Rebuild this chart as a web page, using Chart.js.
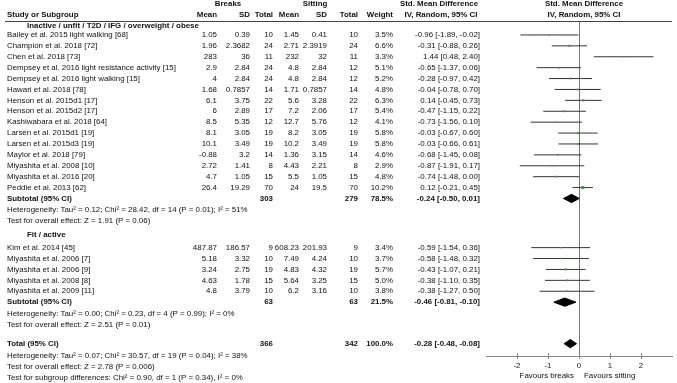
<!DOCTYPE html>
<html>
<head>
<meta charset="utf-8">
<script src="https://cdn.jsdelivr.net/npm/chart.js@4.4.1/dist/chart.umd.min.js"></script>
<style>
  html, body { margin: 0; padding: 0; background: #fff; }
  canvas { display: block; }
</style>
</head>
<body>
<canvas id="chart" width="677" height="383"></canvas>
<script>
// Subgroup 1: inactive / unfit / T2D / IFG / overweight / obese
const g1Label = 'Inactive / unfit / T2D / IFG / overweight / obese';
const g1Names = [
    'Bailey et al. 2015 light walking [68]',
    'Champion et al. 2018 [72]',
    'Chen et al. 2018 [73]',
    'Dempsey et al. 2016 light resistance activity [15]',
    'Dempsey et al. 2016 light walking [15]',
    'Hawari et al. 2018 [78]',
    'Henson et al. 2015d1 [17]',
    'Henson et al. 2015d2 [17]',
    'Kashiwabara et al. 2018 [64]',
    'Larsen et al. 2015d1 [19]',
    'Larsen et al. 2015d3 [19]',
    'Maylor et al. 2018 [79]',
    'Miyashita et al. 2008 [10]',
    'Miyashita et al. 2016 [20]',
    'Peddie et al. 2013 [62]'
];
const g1BreakMean = [1.05, 1.96, 283, 2.9, 4, 1.68, 6.1, 6, 8.5, 8.1, 10.1, -0.88, 2.72, 4.7, 26.4];
const g1BreakSD = [0.39, 2.3682, 36, 2.84, 2.84, 0.7857, 3.75, 2.89, 5.35, 3.05, 3.49, 3.2, 1.41, 1.05, 19.29];
const g1BreakN = [10, 24, 11, 24, 24, 14, 22, 17, 12, 19, 19, 14, 8, 15, 70];
const g1SitMean = [1.45, 2.71, 232, 4.8, 4.8, 1.71, 5.6, 7.2, 12.7, 8.2, 10.2, 1.36, 4.43, 5.5, 24];
const g1SitSD = [0.41, 2.3919, 32, 2.84, 2.84, 0.7857, 3.28, 2.06, 5.76, 3.05, 3.49, 3.15, 2.21, 1.05, 19.5];
const g1SitN = [10, 24, 11, 12, 12, 14, 22, 17, 12, 19, 19, 14, 8, 15, 70];
const g1Weight = [3.5, 6.6, 3.3, 5.1, 5.2, 4.8, 6.3, 5.4, 4.1, 5.8, 5.8, 4.6, 2.9, 4.8, 10.2];
const g1Smd = [-0.96, -0.31, 1.44, -0.65, -0.28, -0.04, 0.14, -0.47, -0.73, -0.03, -0.03, -0.68, -0.87, -0.74, 0.12];
const g1Lo = [-1.89, -0.88, 0.48, -1.37, -0.97, -0.78, -0.45, -1.15, -1.56, -0.67, -0.66, -1.45, -1.91, -1.48, -0.21];
const g1Hi = [-0.02, 0.26, 2.40, 0.06, 0.42, 0.70, 0.73, 0.22, 0.10, 0.60, 0.61, 0.08, 0.17, 0.00, 0.45];
const g1Sub = { nBreak: 303, nSit: 279, weight: 78.5, smd: -0.24, lo: -0.50, hi: 0.01 };
const g1Het = 'Heterogeneity: Tau\u00b2 = 0.12; Chi\u00b2 = 28.42, df = 14 (P = 0.01); I\u00b2 = 51%';
const g1Test = 'Test for overall effect: Z = 1.91 (P = 0.06)';

// Subgroup 2: fit / active
const g2Label = 'Fit / active';
const g2Names = [
    'Kim et al. 2014 [45]',
    'Miyashita et al. 2006 [7]',
    'Miyashita et al. 2006 [9]',
    'Miyashita et al. 2008 [8]',
    'Miyashita et al. 2009 [11]'
];
const g2BreakMean = [487.87, 5.18, 3.24, 4.63, 4.8];
const g2BreakSD = [186.57, 3.32, 2.75, 1.78, 3.79];
const g2BreakN = [9, 10, 19, 15, 10];
const g2SitMean = [608.23, 7.49, 4.83, 5.64, 6.2];
const g2SitSD = [201.93, 4.24, 4.32, 3.25, 3.16];
const g2SitN = [9, 10, 19, 15, 10];
const g2Weight = [3.4, 3.7, 5.7, 5.0, 3.8];
const g2Smd = [-0.59, -0.58, -0.43, -0.38, -0.38];
const g2Lo = [-1.54, -1.48, -1.07, -1.10, -1.27];
const g2Hi = [0.36, 0.32, 0.21, 0.35, 0.50];
const g2Sub = { nBreak: 63, nSit: 63, weight: 21.5, smd: -0.46, lo: -0.81, hi: -0.10 };
const g2Het = 'Heterogeneity: Tau\u00b2 = 0.00; Chi\u00b2 = 0.23, df = 4 (P = 0.99); I\u00b2 = 0%';
const g2Test = 'Test for overall effect: Z = 2.51 (P = 0.01)';

// Overall
const totalSum = { nBreak: 366, nSit: 342, weight: 100.0, smd: -0.28, lo: -0.48, hi: -0.08 };
const totalHet = 'Heterogeneity: Tau\u00b2 = 0.07; Chi\u00b2 = 30.57, df = 19 (P = 0.04); I\u00b2 = 38%';
const totalTest = 'Test for overall effect: Z = 2.78 (P = 0.006)';
const subgroupTest = 'Test for subgroup differences: Chi\u00b2 = 0.90, df = 1 (P = 0.34), I\u00b2 = 0%';

// Axis
const axisTicks = [-2, -1, 0, 1, 2];
const favoursLeft = 'Favours breaks';
const favoursRight = 'Favours sitting';

// Row layout (in row units, 1 = one study line)
const g1Rows = g1Names.map((_, i) => i);
const sub1Row = g1Names.length;
const het1Row = sub1Row + 1.06;
const test1Row = het1Row + 1.0;
const label2Row = test1Row + 1.3;
const g2Rows = g2Names.map((_, i) => label2Row + 1.15 + i);
const sub2Row = label2Row + 1.15 + g2Names.length;
const het2Row = sub2Row + 1.06;
const test2Row = het2Row + 1.0;
const totalRow = test2Row + 1.75;
const het3Row = totalRow + 1.07;
const test3Row = het3Row + 1.05;
const subgrpRow = test3Row + 1.05;

const FONT = "'Liberation Sans', Arial, sans-serif";
const FS = 7.9;
const DIAMOND_H = 0.38;

function ci(v, lo, hi) {
    return v.toFixed(2) + ' [' + lo.toFixed(2) + ', ' + hi.toFixed(2) + ']';
}

// build datasets
let markerData = [], markerRadius = [], whiskers = [];
function addStudies(rows, smd, lo, hi, weight) {
    rows.forEach((r, i) => {
        markerData.push({ x: smd[i], y: r });
        markerRadius.push(0.5 + 0.16 * weight[i]);
        whiskers.push({
            data: [{ x: lo[i], y: r }, { x: hi[i], y: r }],
            showLine: true,
            borderColor: '#333',
            borderWidth: 1,
            pointRadius: 0
        });
    });
}
addStudies(g1Rows, g1Smd, g1Lo, g1Hi, g1Weight);
addStudies(g2Rows, g2Smd, g2Lo, g2Hi, g2Weight);

function diamond(s, r) {
    return {
        data: [
            { x: s.lo, y: r },
            { x: s.smd, y: r - DIAMOND_H },
            { x: s.hi, y: r },
            { x: s.smd, y: r + DIAMOND_H },
            { x: s.lo, y: r }
        ],
        showLine: true,
        fill: 'shape',
        tension: 0,
        borderColor: '#000',
        backgroundColor: '#000',
        borderWidth: 1,
        pointRadius: 0
    };
}

let datasets = [
    {
        data: markerData,
        pointStyle: 'rect',
        pointRadius: markerRadius,
        backgroundColor: '#3c9d3c',
        borderColor: '#3c9d3c',
        borderWidth: 0
    },
    diamond(g1Sub, sub1Row),
    diamond(g2Sub, sub2Row),
    diamond(totalSum, totalRow)
].concat(whiskers);

// column x positions (right edges unless noted)
const col = { name: 7, group: 27, bMean: 217, bSD: 250, bN: 273, sMean: 299, sSD: 327, sN: 358, weight: 393, ci: 480 };

const tablePlugin = {
    id: 'table',
    afterDraw(chart) {
        const ctx = chart.ctx;
        const ys = chart.scales.y;
        const xs = chart.scales.x;
        const area = chart.chartArea;
        ctx.save();
        ctx.textBaseline = 'middle';
        ctx.fillStyle = '#111';

        function txt(s, x, row, align, bold) {
            ctx.font = (bold ? 'bold ' : '') + FS + 'px ' + FONT;
            ctx.textAlign = align || 'left';
            ctx.fillText(s, x, ys.getPixelForValue(row));
        }

        // headers
        const h1 = -2.84, h2 = -1.83;
        txt('Breaks', 228, h1, 'center', true);
        txt('Sitting', 315, h1, 'center', true);
        txt('Std. Mean Difference', 439, h1, 'center', true);
        txt('Std. Mean Difference', 584, h1, 'center', true);
        txt('Study or Subgroup', col.name, h2, 'left', true);
        txt('Mean', col.bMean, h2, 'right', true);
        txt('SD', col.bSD, h2, 'right', true);
        txt('Total', col.bN, h2, 'right', true);
        txt('Mean', col.sMean, h2, 'right', true);
        txt('SD', col.sSD, h2, 'right', true);
        txt('Total', col.sN, h2, 'right', true);
        txt('Weight', col.weight, h2, 'right', true);
        txt('IV, Random, 95% CI', 441, h2, 'center', true);
        txt('IV, Random, 95% CI', 584, h2, 'center', true);

        // header rule
        ctx.strokeStyle = '#444';
        ctx.lineWidth = 1;
        ctx.beginPath();
        ctx.moveTo(5, Math.round(area.top) + 0.5);
        ctx.lineTo(672, Math.round(area.top) + 0.5);
        ctx.stroke();

        function studies(rows, names, bm, bsd, bn, sm, ssd, sn, w, smd, lo, hi) {
            rows.forEach((r, i) => {
                txt(names[i], col.name, r);
                txt(String(bm[i]), col.bMean, r, 'right');
                txt(String(bsd[i]), col.bSD, r, 'right');
                txt(String(bn[i]), col.bN, r, 'right');
                txt(String(sm[i]), col.sMean, r, 'right');
                txt(String(ssd[i]), col.sSD, r, 'right');
                txt(String(sn[i]), col.sN, r, 'right');
                txt(w[i].toFixed(1) + '%', col.weight, r, 'right');
                txt(ci(smd[i], lo[i], hi[i]), col.ci, r, 'right');
            });
        }
        function summary(label, s, r) {
            txt(label, col.name, r, 'left', true);
            txt(String(s.nBreak), col.bN, r, 'right', true);
            txt(String(s.nSit), col.sN, r, 'right', true);
            txt(s.weight.toFixed(1) + '%', col.weight, r, 'right', true);
            txt(ci(s.smd, s.lo, s.hi), col.ci, r, 'right', true);
        }

        txt(g1Label, col.group, -0.83, 'left', true);
        studies(g1Rows, g1Names, g1BreakMean, g1BreakSD, g1BreakN, g1SitMean, g1SitSD, g1SitN, g1Weight, g1Smd, g1Lo, g1Hi);
        summary('Subtotal (95% CI)', g1Sub, sub1Row);
        txt(g1Het, col.name, het1Row);
        txt(g1Test, col.name, test1Row);

        txt(g2Label, col.group, label2Row, 'left', true);
        studies(g2Rows, g2Names, g2BreakMean, g2BreakSD, g2BreakN, g2SitMean, g2SitSD, g2SitN, g2Weight, g2Smd, g2Lo, g2Hi);
        summary('Subtotal (95% CI)', g2Sub, sub2Row);
        txt(g2Het, col.name, het2Row);
        txt(g2Test, col.name, test2Row);

        summary('Total (95% CI)', totalSum, totalRow);
        txt(totalHet, col.name, het3Row);
        txt(totalTest, col.name, test3Row);
        txt(subgroupTest, col.name, subgrpRow);

        // small tick marks above the axis line
        ctx.strokeStyle = '#888';
        axisTicks.forEach(t => {
            const px = Math.round(xs.getPixelForValue(t)) + 0.5;
            ctx.beginPath();
            ctx.moveTo(px, area.bottom - 3);
            ctx.lineTo(px, area.bottom);
            ctx.stroke();
        });

        // favours labels
        const zero = xs.getPixelForValue(0);
        ctx.font = FS + 'px ' + FONT;
        ctx.fillStyle = '#111';
        ctx.textAlign = 'right';
        ctx.fillText(favoursLeft, zero - 5, area.bottom + 20);
        ctx.textAlign = 'left';
        ctx.fillText(favoursRight, zero + 5, area.bottom + 20);
        ctx.restore();
    }
};

new Chart(document.getElementById('chart').getContext('2d'), {
    type: 'scatter',
    data: { datasets: datasets },
    options: {
        responsive: false,
        animation: false,
        events: [],
        layout: { padding: { left: 486, right: 5, top: 21, bottom: 15 } },
        plugins: { legend: { display: false }, tooltip: { enabled: false } },
        scales: {
            x: {
                type: 'linear',
                position: 'bottom',
                min: -3,
                max: 3,
                afterFit: s => { s.height = 12; },
                ticks: {
                    stepSize: 1,
                    autoSkip: false,
                    maxRotation: 0,
                    padding: 2,
                    color: '#222',
                    font: { family: FONT, size: FS },
                    callback: v => axisTicks.includes(v) ? String(v) : ''
                },
                grid: {
                    color: c => (c.tick && c.tick.value === 0) ? '#777' : 'rgba(0,0,0,0)',
                    tickColor: c => (c.tick && axisTicks.includes(c.tick.value)) ? '#888' : 'rgba(0,0,0,0)',
                    tickLength: 3,
                    lineWidth: 1
                },
                border: { color: '#888', width: 1 }
            },
            y: { type: 'linear', display: false, reverse: true, min: -1.28, max: 29.45 }
        }
    },
    plugins: [tablePlugin]
});
</script>
</body>
</html>
